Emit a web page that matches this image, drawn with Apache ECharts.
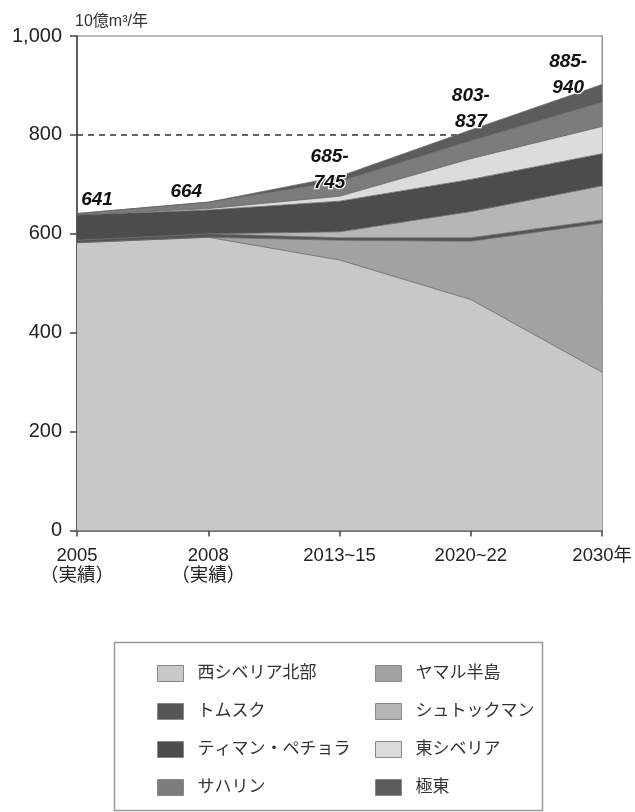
<!DOCTYPE html>
<html>
<head>
<meta charset="utf-8">
<script src="https://cdn.jsdelivr.net/npm/echarts@6/dist/echarts.min.js"></script>
<style>
html,body{margin:0;padding:0;background:#fff;}
#chart{width:635px;height:812px;}
</style>
</head>
<body>
<div id="chart"></div>
<script>
const categories = ['2005\n（実績）', '2008\n（実績）', '2013~15', '2020~22', '2030年'];
const yTicks = [0, 200, 400, 600, 800, 1000];
const westSiberia = [582, 593, 547, 467, 320];
const yamal = [0, 0, 40, 118, 302];
const tomsk = [5, 7, 5, 7, 6];
const shtokman = [0, 0, 12, 53, 69];
const timanPechora = [51, 48, 62, 65, 65];
const eastSiberia = [0, 3, 10, 42, 55];
const sakhalin = [3, 13, 30, 36, 49];
const farEast = [0, 0, 10, 22, 36];
const totalLabels = ['641', '664', '685-\n745', '803-\n837', '885-\n940'];
const referenceLine = 800;

const FONT = '"Liberation Sans", Arial, "Noto Sans CJK JP", sans-serif';
const labelOffsets = [[20, -14], [-22, -10], [-10, -7], [0, -21], [-34, -10]];

const seriesDefs = [
  {name: '西シベリア北部', data: westSiberia, color: '#c8c8c8'},
  {name: 'ヤマル半島', data: yamal, color: '#a2a2a2'},
  {name: 'トムスク', data: tomsk, color: '#555555'},
  {name: 'シュトックマン', data: shtokman, color: '#b6b6b6'},
  {name: 'ティマン・ペチョラ', data: timanPechora, color: '#4c4c4c'},
  {name: '東シベリア', data: eastSiberia, color: '#dcdcdc'},
  {name: 'サハリン', data: sakhalin, color: '#7c7c7c'},
  {name: '極東', data: farEast, color: '#5c5c5c'}
];

const series = seriesDefs.map((d, si) => {
  const isTop = si === seriesDefs.length - 1;
  return {
    name: d.name,
    type: 'line',
    stack: 'total',
    data: d.data.map((v, i) => isTop ? {
      value: v,
      label: {offset: labelOffsets[i]}
    } : v),
    symbol: 'circle',
    symbolSize: 0.01,
    showSymbol: isTop,
    itemStyle: {color: d.color},
    lineStyle: {color: '#666', width: 0.8},
    areaStyle: {color: d.color, opacity: 1},
    emphasis: {disabled: true},
    animation: false,
    label: isTop ? {
      show: true,
      position: 'inside',
      formatter: p => totalLabels[p.dataIndex],
      fontFamily: FONT,
      fontSize: 19,
      fontWeight: 'bold',
      fontStyle: 'italic',
      color: '#111',
      lineHeight: 26,
      textBorderColor: '#fff',
      textBorderWidth: 2.5
    } : {show: false}
  };
});

const legendText = {fontSize: 17, color: '#333', fontFamily: FONT, padding: [0, 0, 0, 9], lineHeight: 16};

const chart = echarts.init(document.getElementById('chart'), null, {renderer: 'canvas'});
chart.setOption({
  backgroundColor: '#fff',
  animation: false,
  textStyle: {fontFamily: FONT},
  grid: {left: 77, right: 25, top: 36, bottom: 281.5, show: true, borderColor: '#777', borderWidth: 1.2, backgroundColor: 'transparent'},
  xAxis: {
    type: 'category',
    data: categories,
    boundaryGap: false,
    axisLine: {lineStyle: {color: '#444', width: 1.5}},
    axisTick: {show: true, alignWithLabel: true, length: 6, lineStyle: {color: '#444', width: 1.5}},
    axisLabel: {fontSize: 18.5, color: '#222', lineHeight: 20, margin: 15, fontFamily: FONT},
    splitLine: {show: false}
  },
  yAxis: {
    type: 'value',
    min: yTicks[0],
    max: yTicks[yTicks.length - 1],
    interval: 200,
    name: '10億m³/年',
    nameLocation: 'end',
    nameGap: 6,
    nameTextStyle: {align: 'left', fontSize: 16, color: '#333', fontFamily: FONT, padding: [0, 0, 0, -2]},
    axisLine: {show: true, lineStyle: {color: '#444', width: 1.5}},
    axisTick: {show: true, length: 7, lineStyle: {color: '#444', width: 1.5}},
    axisLabel: {
      fontSize: 20, color: '#222', margin: 15, fontFamily: FONT,
      formatter: v => v.toLocaleString('en-US')
    },
    splitLine: {
      show: true,
      lineStyle: {
        color: yTicks.map(t => t === referenceLine ? '#333' : 'rgba(0,0,0,0)'),
        type: [6, 5],
        width: 1.5
      }
    }
  },
  legend: [
    {
      data: ['西シベリア北部', 'トムスク', 'ティマン・ペチョラ', 'サハリン'],
      orient: 'vertical', left: 157, top: 665, padding: 0,
      itemWidth: 26, itemHeight: 16, itemGap: 21, icon: 'rect',
      itemStyle: {borderColor: '#888', borderWidth: 1},
      textStyle: legendText,
      selectedMode: false
    },
    {
      data: ['ヤマル半島', 'シュトックマン', '東シベリア', '極東'],
      orient: 'vertical', left: 375, top: 665, padding: 0,
      itemWidth: 26, itemHeight: 16, itemGap: 21, icon: 'rect',
      itemStyle: {borderColor: '#888', borderWidth: 1},
      textStyle: legendText,
      selectedMode: false
    }
  ],
  graphic: [{
    type: 'rect', left: 112, top: 640,
    shape: {width: 428, height: 168},
    style: {fill: 'none', stroke: '#999', lineWidth: 1.5},
    silent: true
  }],
  series: series
});
</script>
</body>
</html>
